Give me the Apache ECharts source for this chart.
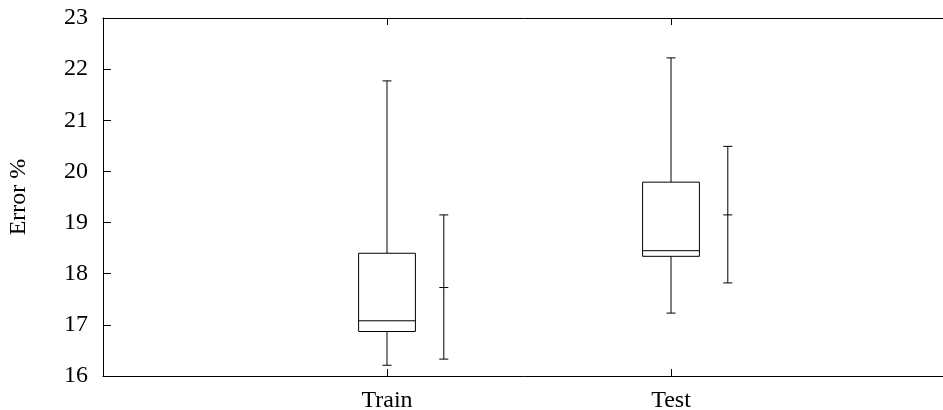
<!DOCTYPE html>
<html>
<head>
<meta charset="utf-8">
<script src="https://cdn.jsdelivr.net/npm/echarts@6/dist/echarts.min.js"></script>
<style>
html,body{margin:0;padding:0;background:#fff;}
#chart{width:943px;height:410px;}
</style>
</head>
<body>
<div id="chart"></div>
<script>
// ---- data ----
const categories = ['Train', 'Test'];
const whiskerLow = [16.21, 17.23];
const q1 = [16.87, 18.34];
const median = [17.08, 18.45];
const q3 = [18.40, 19.79];
const whiskerHigh = [21.77, 22.22];
const meanVal = [17.73, 19.15];
const errLow = [16.33, 17.82];
const errHigh = [19.15, 20.49];
const yTicks = [16, 17, 18, 19, 20, 21, 22, 23];

const FONT = 'Liberation Serif';
const boxData = categories.map((c, i) => [i + 1, whiskerLow[i], q1[i], median[i], q3[i], whiskerHigh[i]]);
const errData = categories.map((c, i) => [i + 1, errLow[i], meanVal[i], errHigh[i]]);

const lineStyle = {stroke: '#000', lineWidth: 1, fill: null};

function boxRender(params, api) {
  const x = api.value(0);
  const half = api.size([0.2, 0])[0] / 2;
  const cap = 4.5;
  const pLow = api.coord([x, api.value(1)]);
  const pQ1 = api.coord([x, api.value(2)]);
  const pMed = api.coord([x, api.value(3)]);
  const pQ3 = api.coord([x, api.value(4)]);
  const pHigh = api.coord([x, api.value(5)]);
  const cx = pLow[0];
  const line = (x1, y1, x2, y2) => ({type: 'line', shape: {x1, y1, x2, y2}, style: lineStyle});
  return {
    type: 'group',
    children: [
      {type: 'rect', shape: {x: cx - half, y: pQ3[1], width: 2 * half, height: pQ1[1] - pQ3[1]}, style: {stroke: '#000', lineWidth: 1, fill: null}},
      line(cx - half, pMed[1], cx + half, pMed[1]),
      line(cx, pQ3[1], cx, pHigh[1]),
      line(cx, pQ1[1], cx, pLow[1]),
      line(cx - cap, pHigh[1], cx + cap, pHigh[1]),
      line(cx - cap, pLow[1], cx + cap, pLow[1])
    ]
  };
}

function errRender(params, api) {
  const x = api.value(0) + 0.2;
  const cap = 4.5;
  const pLow = api.coord([x, api.value(1)]);
  const pMean = api.coord([x, api.value(2)]);
  const pHigh = api.coord([x, api.value(3)]);
  const cx = pLow[0];
  const line = (x1, y1, x2, y2) => ({type: 'line', shape: {x1, y1, x2, y2}, style: lineStyle});
  return {
    type: 'group',
    children: [
      line(cx, pLow[1], cx, pHigh[1]),
      line(cx - cap, pLow[1], cx + cap, pLow[1]),
      line(cx - cap, pHigh[1], cx + cap, pHigh[1]),
      line(cx - cap, pMean[1], cx + cap, pMean[1])
    ]
  };
}

const chart = echarts.init(document.getElementById('chart'), null, {renderer: 'canvas'});
const xLabel = v => (v >= 1 && v <= categories.length && Number.isInteger(v)) ? categories[v - 1] : '';
chart.setOption({
  animation: false,
  backgroundColor: '#fff',
  grid: {left: 103, top: 18, width: 852, height: 358, containLabel: false, outerBoundsMode: 'none'},
  xAxis: [
    {
      type: 'value', min: 0, max: 3, interval: 1, position: 'bottom',
      axisLine: {show: true, lineStyle: {color: '#000', width: 1}},
      axisTick: {show: true, inside: true, length: 7, lineStyle: {color: '#000'}},
      axisLabel: {formatter: xLabel, color: '#000', fontFamily: FONT, fontSize: 24, margin: 13},
      splitLine: {show: false}
    },
    {
      type: 'value', min: 0, max: 3, interval: 1, position: 'top',
      axisLine: {show: true, lineStyle: {color: '#000', width: 1}},
      axisTick: {show: true, inside: true, length: 7, lineStyle: {color: '#000'}},
      axisLabel: {show: false},
      splitLine: {show: false}
    }
  ],
  yAxis: {
    type: 'value', min: yTicks[0], max: yTicks[yTicks.length - 1], interval: 1,
    name: 'Error %', nameLocation: 'middle', nameGap: 72,
    nameTextStyle: {color: '#000', fontFamily: FONT, fontSize: 24},
    axisLine: {show: true, lineStyle: {color: '#000', width: 1}},
    axisTick: {show: true, inside: true, length: 8, lineStyle: {color: '#000'}},
    axisLabel: {color: '#000', fontFamily: FONT, fontSize: 24, margin: 15},
    splitLine: {show: false}
  },
  series: [
    {type: 'custom', renderItem: boxRender, data: boxData, encode: {x: 0, y: [1, 2, 3, 4, 5]}, clip: false},
    {type: 'custom', renderItem: errRender, data: errData, encode: {x: 0, y: [1, 2, 3]}, clip: false}
  ]
});
</script>
</body>
</html>
